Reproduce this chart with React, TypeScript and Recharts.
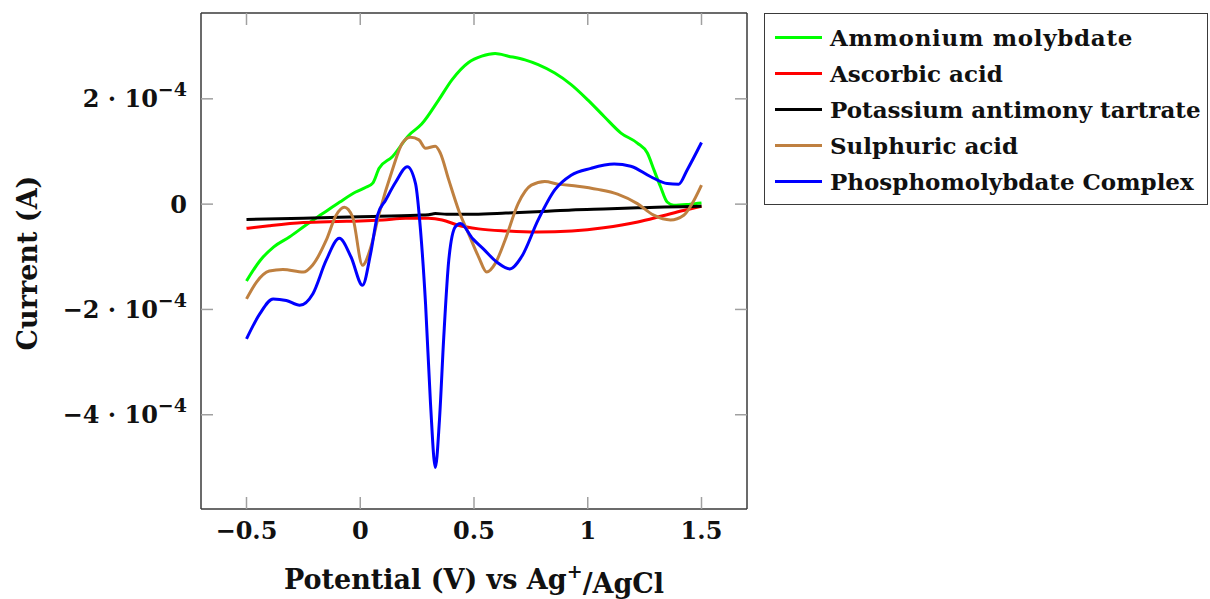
import React from 'react';
import { LineChart, Line, XAxis, YAxis, Legend } from 'recharts';

// ---- data (potential in V vs Ag+/AgCl, current in A) ----
const ammoniumV = [-0.5, -0.44, -0.38, -0.31, -0.24, -0.165, -0.09, -0.02, 0.025, 0.055, 0.083, 0.141, 0.214, 0.27, 0.345, 0.403, 0.476, 0.534, 0.593, 0.651, 0.724, 0.782, 0.855, 0.927, 1.0, 1.073, 1.146, 1.218, 1.262, 1.291, 1.32, 1.349, 1.378, 1.45, 1.5];
const ammoniumI = [-1.46e-4, -1.07e-4, -0.81e-4, -0.62e-4, -0.4e-4, -0.18e-4, 0.04e-4, 0.23e-4, 0.32e-4, 0.4e-4, 0.68e-4, 0.9e-4, 1.31e-4, 1.52e-4, 1.98e-4, 2.36e-4, 2.69e-4, 2.81e-4, 2.86e-4, 2.81e-4, 2.74e-4, 2.65e-4, 2.49e-4, 2.27e-4, 1.98e-4, 1.66e-4, 1.35e-4, 1.16e-4, 0.97e-4, 0.65e-4, 0.33e-4, 0.04e-4, -0.02e-4, 0.0, 0.02e-4];

const ascorbicV = [-0.5, -0.4, -0.25, -0.1, 0, 0.1, 0.2, 0.3, 0.36, 0.43, 0.52, 0.64, 0.78, 0.93, 1.07, 1.22, 1.33, 1.42, 1.5];
const ascorbicI = [-0.46e-4, -0.41e-4, -0.35e-4, -0.33e-4, -0.32e-4, -0.3e-4, -0.27e-4, -0.27e-4, -0.3e-4, -0.4e-4, -0.47e-4, -0.51e-4, -0.53e-4, -0.51e-4, -0.45e-4, -0.34e-4, -0.22e-4, -0.12e-4, -0.04e-4];

const antimonyV = [-0.5, -0.25, 0, 0.25, 0.3, 0.33, 0.38, 0.5, 0.64, 0.8, 0.93, 1.1, 1.22, 1.5];
const antimonyI = [-0.29e-4, -0.27e-4, -0.24e-4, -0.21e-4, -0.2e-4, -0.18e-4, -0.19e-4, -0.19e-4, -0.17e-4, -0.14e-4, -0.11e-4, -0.09e-4, -0.07e-4, -0.04e-4];

const sulphuricV = [-0.5, -0.456, -0.4, -0.34, -0.25, -0.21, -0.15, -0.106, -0.07, -0.034, 0.01, 0.047, 0.083, 0.141, 0.185, 0.221, 0.258, 0.287, 0.33, 0.352, 0.389, 0.432, 0.476, 0.52, 0.556, 0.593, 0.636, 0.694, 0.752, 0.811, 0.869, 0.956, 1.044, 1.131, 1.218, 1.29, 1.364, 1.422, 1.459, 1.5];
const sulphuricI = [-1.8e-4, -1.48e-4, -1.27e-4, -1.24e-4, -1.29e-4, -1.16e-4, -0.69e-4, -0.21e-4, -0.06e-4, -0.24e-4, -1.16e-4, -0.81e-4, -0.18e-4, 0.65e-4, 1.16e-4, 1.27e-4, 1.22e-4, 1.06e-4, 1.1e-4, 0.97e-4, 0.46e-4, -0.11e-4, -0.56e-4, -1.0e-4, -1.29e-4, -1.13e-4, -0.69e-4, 0.01e-4, 0.36e-4, 0.43e-4, 0.38e-4, 0.34e-4, 0.28e-4, 0.19e-4, 0.01e-4, -0.21e-4, -0.3e-4, -0.21e-4, 0.01e-4, 0.36e-4];

const complexV = [-0.5, -0.441, -0.383, -0.325, -0.266, -0.208, -0.15, -0.092, -0.041, 0.01, 0.045, 0.076, 0.112, 0.156, 0.207, 0.243, 0.265, 0.287, 0.309, 0.33, 0.348, 0.367, 0.389, 0.418, 0.44, 0.495, 0.541, 0.6, 0.658, 0.709, 0.782, 0.855, 0.927, 1.014, 1.116, 1.189, 1.277, 1.349, 1.4, 1.437, 1.5];
const complexI = [-2.56e-4, -2.08e-4, -1.8e-4, -1.83e-4, -1.92e-4, -1.7e-4, -1.07e-4, -0.65e-4, -1.0e-4, -1.54e-4, -0.95e-4, -0.21e-4, 0.08e-4, 0.42e-4, 0.71e-4, 0.39e-4, -0.5e-4, -1.89e-4, -3.8e-4, -5.0e-4, -4.11e-4, -2.53e-4, -1.07e-4, -0.43e-4, -0.37e-4, -0.66e-4, -0.85e-4, -1.1e-4, -1.23e-4, -1.0e-4, -0.3e-4, 0.27e-4, 0.55e-4, 0.68e-4, 0.76e-4, 0.72e-4, 0.52e-4, 0.39e-4, 0.38e-4, 0.65e-4, 1.17e-4];

const seriesNames = ['Ammonium molybdate', 'Ascorbic acid', 'Potassium antimony tartrate', 'Sulphuric acid', 'Phosphomolybdate Complex'];
const seriesColors = ['#00ff00', '#ff0000', '#000000', '#bf8040', '#0000ff'];
const seriesV = [ammoniumV, ascorbicV, antimonyV, sulphuricV, complexV];
const seriesI = [ammoniumI, ascorbicI, antimonyI, sulphuricI, complexI];

const xTicks = [-0.5, 0, 0.5, 1, 1.5];
const yTicks = [-4e-4, -2e-4, 0, 2e-4];
const xDomain = [-0.7, 1.7];
const yDomain = [-5.79e-4, 3.63e-4];

const FONT = '"DejaVu Serif", "Liberation Serif", serif';
const FRAME = '#3a3a3a';
const TICK = '#a0a0a0';
const TICK_LEN = 12;
const X_MARGIN = 21;
const Y_MARGIN = 14;

const series = seriesNames.map((name, i) => ({
  name,
  color: seriesColors[i],
  data: seriesV[i].map((v, j) => ({ v, i: seriesI[i][j] })),
}));

const fmtX = (v: number) => (v < 0 ? '\u2212' + Math.abs(v) : String(v));

const XTick = (props: any) => {
  const { x, y, payload } = props;
  const edge = y - X_MARGIN;
  return (
    <g>
      <line x1={x} x2={x} y1={edge - TICK_LEN} y2={edge} stroke={TICK} strokeWidth={1.5} />
      <text x={x} y={y} textAnchor="middle" dy="0.36em" fontFamily={FONT} fontWeight="bold" fontSize={24} fill="#111">
        {fmtX(payload.value)}
      </text>
    </g>
  );
};

const TopTick = (props: any) => {
  const { x, y } = props;
  return <line x1={x} x2={x} y1={y} y2={y + TICK_LEN} stroke={TICK} strokeWidth={1.5} />;
};

const RightTick = (props: any) => {
  const { x, y } = props;
  return <line x1={x - TICK_LEN} x2={x} y1={y} y2={y} stroke={TICK} strokeWidth={1.5} />;
};

const YTick = (props: any) => {
  const { x, y, payload } = props;
  const edge = x + Y_MARGIN;
  const m = Math.round(payload.value / 1e-4);
  const mant = m < 0 ? '\u2212' + Math.abs(m) : String(m);
  return (
    <g>
      <line x1={edge} x2={edge + TICK_LEN} y1={y} y2={y} stroke={TICK} strokeWidth={1.5} />
      {m === 0 ? (
        <text x={x} y={y} textAnchor="end" dy="0.36em" fontFamily={FONT} fontWeight="bold" fontSize={24} fill="#111">0</text>
      ) : (
        <text x={x} y={y} textAnchor="end" dy="0.36em" fontFamily={FONT} fontWeight="bold" fontSize={24} fill="#111">
          <tspan>{mant + ' \u00b7 ' + '10'}</tspan>
          <tspan dy="-0.6em" fontSize={19}>{'\u22124'}</tspan>
        </text>
      )}
    </g>
  );
};

const XLabel = (props: any) => {
  const vb = props.viewBox || {};
  const cx = vb.x + vb.width / 2;
  const cy = vb.y + 70;
  return (
    <text x={cx} y={cy} textAnchor="middle" dy="0.36em" fontFamily={FONT} fontWeight="bold" fontSize={27} fill="#111">
      <tspan>Potential (V) vs Ag</tspan>
      <tspan dy="-0.55em" fontSize={19}>+</tspan>
      <tspan dy="0.55em">/AgCl</tspan>
    </text>
  );
};

const YLabel = (props: any) => {
  const vb = props.viewBox || {};
  const cx = vb.x + 27;
  const cy = vb.y + vb.height / 2 + 2;
  return (
    <text x={cx} y={cy} textAnchor="middle" dy="0.36em" transform={`rotate(-90 ${cx} ${cy})`} fontFamily={FONT} fontWeight="bold" fontSize={27} fill="#111">
      Current (A)
    </text>
  );
};

const LegendBox = () => (
  <div
    style={{
      boxSizing: 'border-box',
      width: 444,
      height: 192,
      border: `1.5px solid ${FRAME}`,
      background: '#fff',
      padding: '5px 0 0 10px',
      fontFamily: FONT,
      fontWeight: 'bold',
      fontSize: 23,
      color: '#111',
      whiteSpace: 'nowrap',
      lineHeight: 1,
    }}
  >
    {series.map((s) => (
      <div key={s.name} style={{ display: 'flex', alignItems: 'center', height: 36 }}>
        <span style={{ display: 'inline-block', width: 47, height: 3, background: s.color, marginRight: 8 }} />
        <span style={{ letterSpacing: s.name === 'Ammonium molybdate' ? 0.7 : 0 }}>{s.name}</span>
      </div>
    ))}
  </div>
);

export default function App() {
  return (
    <div style={{ position: 'fixed', left: 0, top: 0, width: 1210, height: 599, overflow: 'hidden', background: '#fff' }}>
      <LineChart width={1210} height={599} margin={{ top: 12, right: 462, bottom: 0, left: 0 }}>
        <XAxis
          type="number"
          dataKey="v"
          domain={xDomain}
          ticks={xTicks}
          interval={0}
          allowDataOverflow
          height={90}
          tickSize={0}
          tickMargin={X_MARGIN}
          tick={<XTick />}
          tickLine={false}
          axisLine={{ stroke: FRAME, strokeWidth: 1.5 }}
          label={<XLabel />}
        />
        <XAxis
          xAxisId="top"
          orientation="top"
          type="number"
          dataKey="v"
          domain={xDomain}
          ticks={xTicks}
          interval={0}
          allowDataOverflow
          height={1}
          tickSize={0}
          tickMargin={0}
          tick={<TopTick />}
          tickLine={false}
          axisLine={{ stroke: FRAME, strokeWidth: 1.5 }}
        />
        <YAxis
          type="number"
          dataKey="i"
          domain={yDomain}
          ticks={yTicks}
          interval={0}
          allowDataOverflow
          width={201}
          tickSize={0}
          tickMargin={Y_MARGIN}
          tick={<YTick />}
          tickLine={false}
          axisLine={{ stroke: FRAME, strokeWidth: 1.5 }}
          label={<YLabel />}
        />
        <YAxis
          yAxisId="right"
          orientation="right"
          type="number"
          dataKey="i"
          domain={yDomain}
          ticks={yTicks}
          interval={0}
          allowDataOverflow
          width={1}
          tickSize={0}
          tickMargin={0}
          tick={<RightTick />}
          tickLine={false}
          axisLine={{ stroke: FRAME, strokeWidth: 1.5 }}
        />
        <Legend
          layout="vertical"
          align="center"
          verticalAlign="middle"
          wrapperStyle={{ left: 764, top: 13, width: 444 }}
          content={<LegendBox />}
        />
        {series.map((s) => (
          <Line
            key={s.name}
            name={s.name}
            data={s.data}
            dataKey="i"
            type="monotone"
            stroke={s.color}
            strokeWidth={3}
            dot={false}
            activeDot={false}
            isAnimationActive={false}
          />
        ))}
      </LineChart>
    </div>
  );
}
